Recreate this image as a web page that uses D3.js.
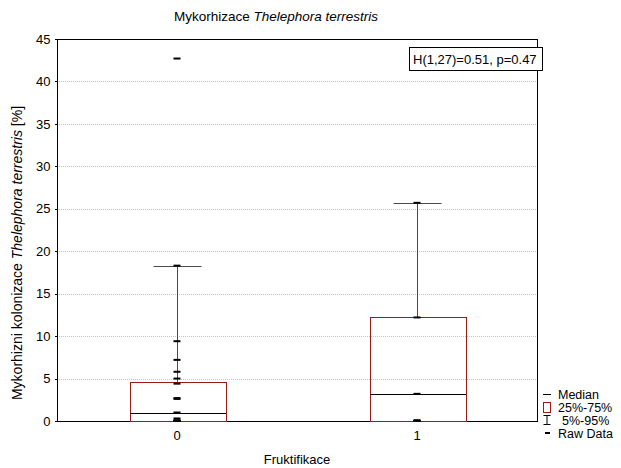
<!DOCTYPE html>
<html>
<head>
<meta charset="utf-8">
<style>
  body { margin: 0; background: #fff; }
  svg { font-family: "Liberation Sans", Arial, sans-serif; }
  .axis path, .axis line { stroke: #000; shape-rendering: crispEdges; }
  .axis text { font-size: 13px; fill: #000; }
</style>
</head>
<body>
<script src="https://cdn.jsdelivr.net/npm/d3@7"></script>
<script>
// data
var groups = ["0", "1"];
var q05 = [0, 0];
var q25 = [0, 0];
var medians = [0.9, 3.2];
var q75 = [4.6, 12.2];
var q95 = [18.3, 25.7];
var raw0 = [42.7, 18.3, 9.4, 7.2, 5.8, 5.0, 4.4, 2.7, 2.6, 1.0, 0.3, 0.1, 0, 0, 0, 0, 0, 0, 0, 0];
var raw1 = [25.7, 12.2, 3.2, 0.1, 0, 0, 0];
var rawData = [raw0, raw1];
var yTicks = [0, 5, 10, 15, 20, 25, 30, 35, 40, 45];
var legendItems = ["Median", "25%-75%", "5%-95%", "Raw Data"];

var W = 621, H = 468;
var margin = {left: 57, right: 537, top: 39, bottom: 421};

var svg = d3.select("body").append("svg")
    .attr("width", W)
    .attr("height", H);

var x = d3.scaleBand().domain(groups).range([margin.left, margin.right]).padding(0);
var y = d3.scaleLinear().domain([0, 45]).range([margin.bottom, margin.top]);

var bw = x.bandwidth();
var cx = function(i) { return x(groups[i]) + bw / 2; };

// grid
svg.append("g").selectAll("line")
    .data(yTicks.filter(function(d) { return d > 0 && d < 45; }))
    .enter().append("line")
    .attr("x1", margin.left).attr("x2", margin.right)
    .attr("y1", function(d) { return Math.round(y(d)) + 0.5; })
    .attr("y2", function(d) { return Math.round(y(d)) + 0.5; })
    .attr("stroke", "#c4c4c4")
    .attr("stroke-dasharray", "1,1");

// frame
svg.append("rect")
    .attr("x", margin.left + 0.5).attr("y", margin.top + 0.5)
    .attr("width", margin.right - margin.left).attr("height", margin.bottom - margin.top)
    .attr("fill", "none").attr("stroke", "#000");

// axes
svg.append("g")
    .attr("class", "axis")
    .attr("transform", "translate(" + (margin.left + 0.5) + ",0)")
    .call(d3.axisLeft(y).tickValues(yTicks).tickSize(3).tickPadding(4))
    .call(function(g) { g.select(".domain").remove(); });

svg.append("g")
    .attr("class", "axis")
    .attr("transform", "translate(0," + (margin.bottom + 0.5) + ")")
    .call(d3.axisBottom(x).tickSize(0).tickPadding(9))
    .call(function(g) { g.select(".domain").remove(); });

// boxes, whiskers, raw points
var bg = svg.append("g");
groups.forEach(function(g, i) {
  var c = Math.round(cx(i)) + 0.5;
  var bx = Math.round(c - bw * 0.2), bwid = Math.round(bw * 0.4);
  bg.append("line")
      .attr("x1", c).attr("x2", c)
      .attr("y1", y(q95[i])).attr("y2", y(q75[i]))
      .attr("stroke", "#4a4a4a");
  bg.append("line")
      .attr("x1", c - bw * 0.1).attr("x2", c + bw * 0.1)
      .attr("y1", Math.round(y(q95[i])) + 0.5).attr("y2", Math.round(y(q95[i])) + 0.5)
      .attr("stroke", "#4a4a4a");
  bg.append("rect")
      .attr("x", bx + 0.5).attr("y", Math.round(y(q75[i])) + 0.5)
      .attr("width", bwid)
      .attr("height", Math.round(y(q25[i])) - Math.round(y(q75[i])))
      .attr("fill", "none")
      .attr("stroke", "#a01818");
  bg.append("line")
      .attr("x1", bx).attr("x2", bx + bwid)
      .attr("y1", Math.round(y(medians[i])) + 0.5).attr("y2", Math.round(y(medians[i])) + 0.5)
      .attr("stroke", "#000");
  bg.selectAll(".raw" + i)
      .data(rawData[i])
      .enter().append("rect")
      .attr("x", c - 4)
      .attr("y", function(d) { return y(d) - 1; })
      .attr("width", 7)
      .attr("height", 2)
      .attr("fill", "#000");
});

// title
var title = svg.append("text")
    .attr("x", 276).attr("y", 21)
    .attr("text-anchor", "middle")
    .style("font-size", "13.5px");
title.append("tspan").text("Mykorhizace ");
title.append("tspan").style("font-style", "italic").text("Thelephora terrestris");

// y label
var yl = svg.append("text")
    .attr("transform", "translate(22,253) rotate(-90)")
    .attr("text-anchor", "middle")
    .style("font-size", "14px");
yl.append("tspan").text("Mykorhizni kolonizace ");
yl.append("tspan").style("font-style", "italic").text("Thelephora terrestris");
yl.append("tspan").text(" [%]");

// x label
svg.append("text")
    .attr("x", (margin.left + margin.right) / 2).attr("y", 464)
    .attr("text-anchor", "middle")
    .style("font-size", "13px")
    .text("Fruktifikace");

// stats box
svg.append("rect")
    .attr("x", 409.5).attr("y", 47.5)
    .attr("width", 133).attr("height", 23)
    .attr("fill", "#fff").attr("stroke", "#000");
svg.append("text")
    .attr("x", 413).attr("y", 64)
    .style("font-size", "13px")
    .text("H(1,27)=0.51, p=0.47");

// legend
var lg = svg.append("g").attr("transform", "translate(542,0)");
var ly = [394, 407, 420, 433];
lg.append("line").attr("x1", 1).attr("x2", 9).attr("y1", ly[0] + 0.5).attr("y2", ly[0] + 0.5).attr("stroke", "#000");
lg.append("rect").attr("x", 1.5).attr("y", ly[1] - 4.5).attr("width", 7).attr("height", 10)
    .attr("fill", "none").attr("stroke", "#a01818");
lg.append("path").attr("d", "M1.5," + (ly[2] - 4.5) + "H8.5M5," + (ly[2] - 4.5) + "V" + (ly[2] + 4.5) + "M1.5," + (ly[2] + 4.5) + "H8.5")
    .attr("fill", "none").attr("stroke", "#000");
lg.append("rect").attr("x", 3).attr("y", ly[3] - 1).attr("width", 5).attr("height", 2).attr("fill", "#000");
lg.selectAll(".lt")
    .data(legendItems)
    .enter().append("text")
    .attr("x", function(d, i) { return i == 2 ? 20 : 16; })
    .attr("y", function(d, i) { return ly[i] + 4.5; })
    .style("font-size", "12.5px")
    .text(function(d) { return d; });
</script>
</body>
</html>
